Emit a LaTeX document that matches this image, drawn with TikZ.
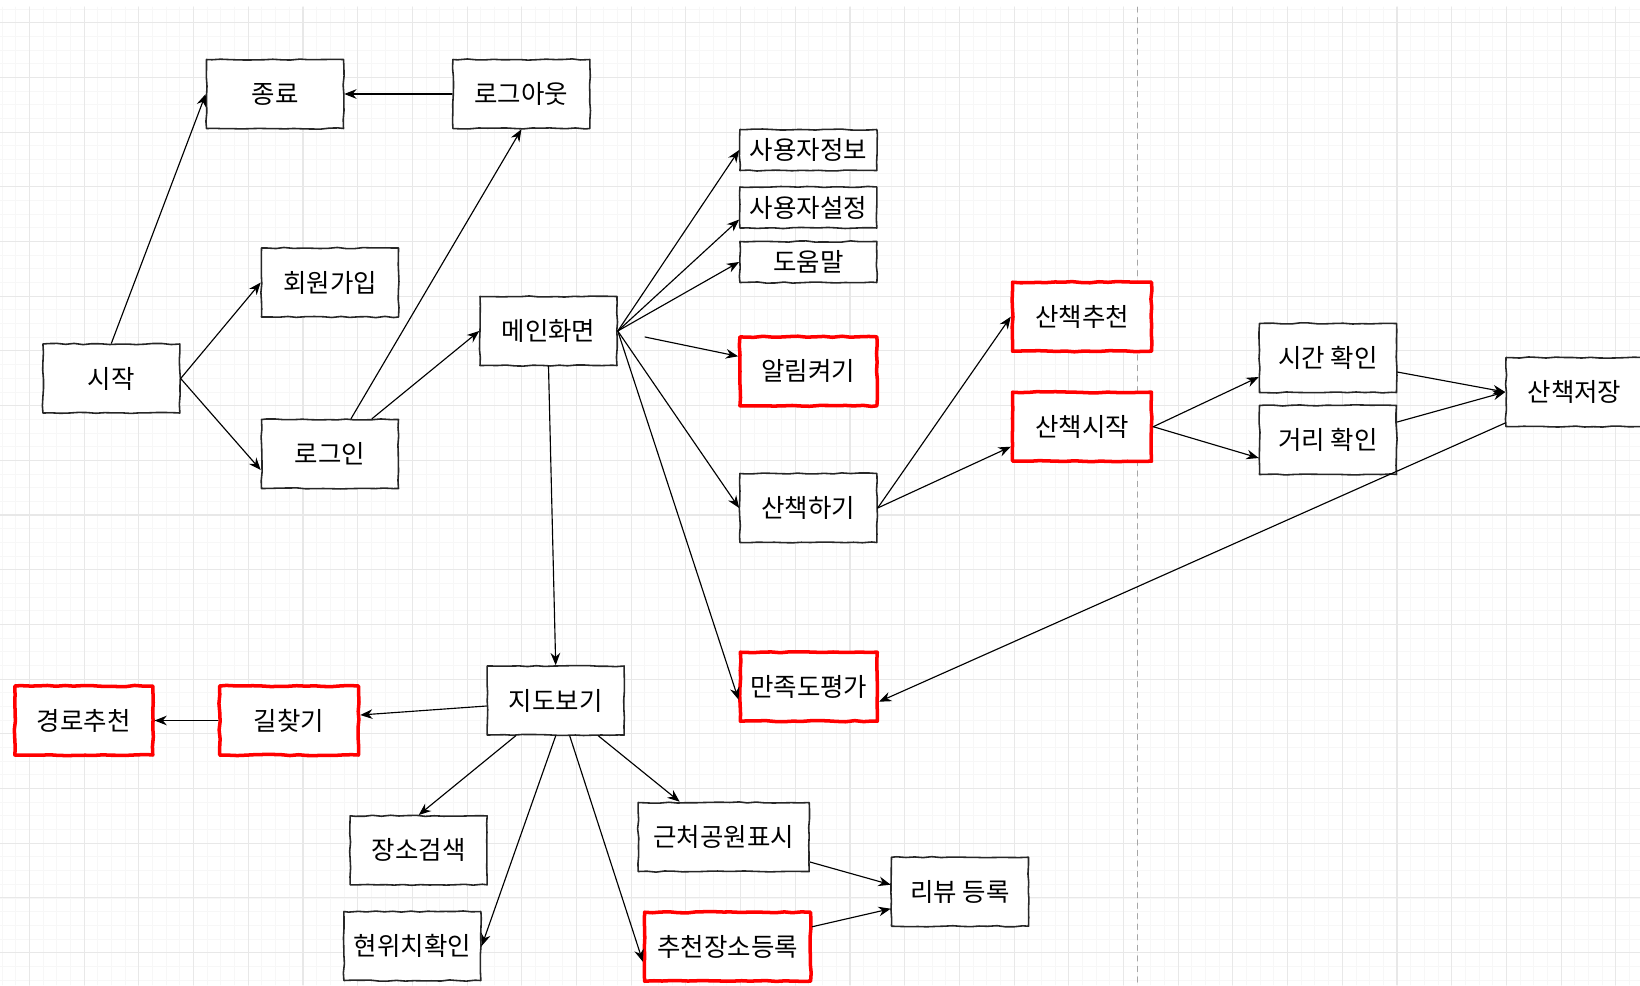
\documentclass[tikz,border=0pt]{standalone}
\usepackage{fontspec}
\setmainfont{Noto Sans CJK KR}
\usetikzlibrary{arrows.meta,calc,shadows,decorations.pathmorphing}
\begin{document}
\begin{tikzpicture}[x=0.02cm,y=-0.02cm,>={Stealth[length=7pt,width=5.5pt]},line join=round,line cap=round,
    font=\fontsize{14.5}{17}\selectfont,
    box/.style={draw=black!85,line width=0.9pt,fill=white,inner sep=0pt,minimum width=2.74cm,minimum height=1.38cm,
        decorate,decoration={random steps,segment length=5pt,amplitude=0.35pt}},
    thinbox/.style={box,minimum height=0.82cm},
    redbox/.style={box,draw=red,line width=2pt,drop shadow={shadow xshift=0.8pt,shadow yshift=-0.8pt,opacity=0.25}},
    link/.style={->,line width=0.65pt},
    minorline/.style={black!3,line width=0.5pt},
    majorline/.style={black!9,line width=0.6pt}]
    \pgfmathsetseed{7}
    \def\W{1640} \def\H{985} \def\top{7}
    \useasboundingbox (0,0) rectangle (\W,\H);
    \clip (0,0) rectangle (\W,\H);
    \foreach \i in {0,...,119} \draw[minorline] ({2.1+13.675*\i},\top)--({2.1+13.675*\i},\H);
    \foreach \i in {0,...,71} \draw[minorline] (0,{9.05+13.675*\i})--(\W,{9.05+13.675*\i});
    \foreach \i in {0,...,29} \draw[majorline] ({29.5+54.7*\i},\top)--({29.5+54.7*\i},\H);
    \foreach \i in {0,...,17} \draw[majorline] (0,{22.7+54.7*\i})--(\W,{22.7+54.7*\i});
    \draw[black!35,line width=0.5pt,dash pattern=on 3pt off 3pt] (1137,\top)--(1137,\H);

    \node[box] (start) at (111.4,378.5) {시작};
    \node[box] (exit) at (275,94) {종료};
    \node[box] (logout) at (521.4,94) {로그아웃};
    \node[box] (signup) at (330,282.5) {회원가입};
    \node[box] (login) at (330,454) {로그인};
    \node[box] (main) at (548.5,331) {메인화면};
    \node[thinbox] (userinfo) at (808.4,150) {사용자정보};
    \node[thinbox] (usersetting) at (808.4,207.5) {사용자설정};
    \node[thinbox] (help) at (808.4,262) {도움말};
    \node[redbox] (alarm) at (808.4,371.3) {알림켜기};
    \node[box] (walk) at (808.4,508) {산책하기};
    \node[redbox] (rating) at (808.8,686.7) {만족도평가};
    \node[redbox,minimum width=2.78cm] (walkrec) at (1082,316.7) {산책추천};
    \node[redbox,minimum width=2.78cm] (walkstart) at (1082,426.7) {산책시작};
    \node[box] (timechk) at (1328,358) {시간 확인};
    \node[box] (distchk) at (1328,440) {거리 확인};
    \node[box] (walksave) at (1574.5,392) {산책저장};
    \node[box] (mapview) at (555.7,700.5) {지도보기};
    \node[redbox,minimum width=2.78cm] (route) at (289,720.5) {길찾기};
    \node[redbox,minimum width=2.76cm] (pathrec) at (83.8,720.5) {경로추천};
    \node[box] (search) at (418.7,850.3) {장소검색};
    \node[box] (curloc) at (412.4,946) {현위치확인};
    \node[box,minimum width=3.42cm] (park) at (723.7,837) {근처공원표시};
    \node[redbox,minimum width=3.32cm] (recplace) at (727.6,946.7) {추천장소등록};
    \node[box] (review) at (960,891.7) {리뷰 등록};
    \coordinate (alarmtail) at (645,337);

    \draw[link] (start.north)--(exit.west);
    \draw[link] (start.east)--(signup.west);
    \draw[link] (start.east)--($(login.west)+(0,16)$);
    \draw[link] ($(login.north)+(21,0)$)--(logout.south);
    \draw[link] ($(login.north)+(42,0)$)--(main.west);
    \draw[link] (logout.west)--(exit.east);
    \draw[link] (main.east)--(userinfo.west);
    \draw[link] (main.east)--($(usersetting.west)+(0,12)$);
    \draw[link] (main.east)--(help.west);
    \draw[link] (alarmtail)--($(alarm.west)+(0,-15)$);
    \draw[link] (main.east)--(walk.west);
    \draw[link] (main.east)--($(rating.west)+(0,13)$);
    \draw[link] (main.south)--(mapview.north);
    \draw[link] (walk.east)--(walkrec.west);
    \draw[link] (walk.east)--($(walkstart.west)+(0,20)$);
    \draw[link] (walkstart.east)--($(timechk.west)+(0,19)$);
    \draw[link] (walkstart.east)--($(distchk.west)+(0,18)$);
    \draw[link] ($(timechk.east)+(0,14)$)--(walksave.west);
    \draw[link] ($(distchk.east)+(0,-18)$)--(walksave.west);
    \draw[link] ($(walksave.west)+(0,31)$)--($(rating.east)+(0,15)$);
    \draw[link] ($(mapview.west)+(0,5.5)$)--($(route.east)+(0,-5.5)$);
    \draw[link] (route.west)--(pathrec.east);
    \draw[link] ($(mapview.south)+(-40,0)$)--(search.north);
    \draw[link] (mapview.south)--(curloc.east);
    \draw[link] ($(mapview.south)+(14,0)$)--($(recplace.west)+(0,15)$);
    \draw[link] ($(mapview.south)+(42.6,0)$)--($(park.north)+(-44,0)$);
    \draw[link] ($(park.east)+(0,25)$)--($(review.west)+(0,-7)$);
    \draw[link] ($(recplace.east)+(0,-20)$)--($(review.west)+(0,17)$);
\end{tikzpicture}
\end{document}
